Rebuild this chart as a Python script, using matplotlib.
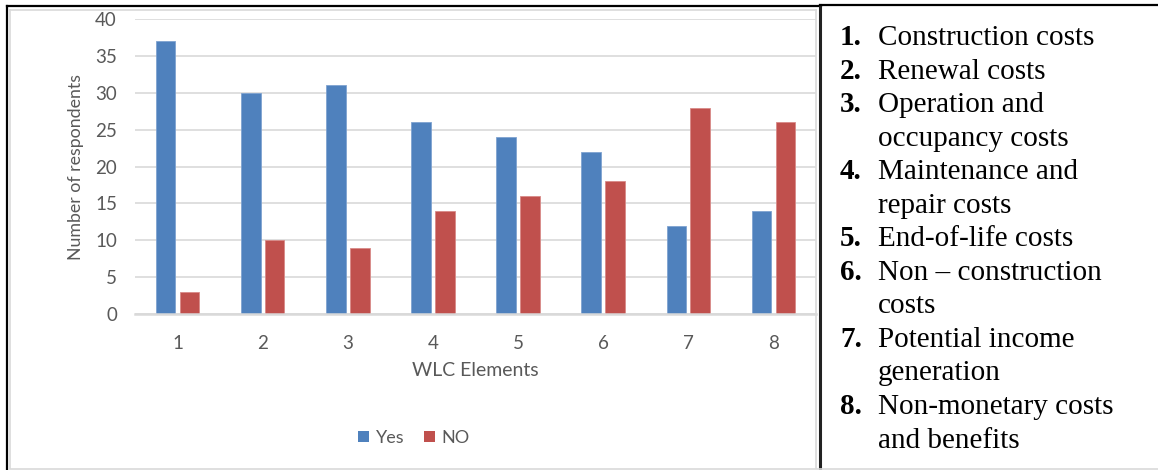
import matplotlib
matplotlib.use('Agg')
import matplotlib.pyplot as plt
from matplotlib.patches import Patch
import numpy as np

# WLC elements and survey responses
elements = ['1', '2', '3', '4', '5', '6', '7', '8']
yes_counts = [37, 30, 31, 26, 24, 22, 12, 14]
no_counts = [3, 10, 9, 14, 16, 18, 28, 26]
series_names = ['Yes', 'NO']
y_ticks = [0, 5, 10, 15, 20, 25, 30, 35, 40]

# key for the element numbers (each entry may wrap onto two lines)
key_numbers = ['1.', '2.', '3.', '4.', '5.', '6.', '7.', '8.']
key_lines = [
    ['Construction costs'],
    ['Renewal costs'],
    ['Operation and', 'occupancy costs'],
    ['Maintenance and', 'repair costs'],
    ['End-of-life costs'],
    ['Non \u2013 construction', 'costs'],
    ['Potential income', 'generation'],
    ['Non-monetary costs', 'and benefits'],
]

BLUE = '#4F81BD'
RED = '#C0504D'
GRID = '#D9D9D9'
TXT = '#595959'
W, H = 1158, 470

plt.rcParams['font.family'] = ['Lato', 'DejaVu Sans']

fig = plt.figure(figsize=(W / 100, H / 100), dpi=100)

# frame lines drawn in pixel coordinates on a background layer
bg = fig.add_axes([0, 0, 1, 1], zorder=0)
bg.set_xlim(0, W)
bg.set_ylim(H, 0)
bg.axis('off')
bg.plot([7, 7], [6, H], color='black', lw=1.6)
bg.plot([7, 821], [6, 6], color='black', lw=1.6)
bg.plot([9.5, 9.5], [9.5, 468], color=GRID, lw=1.2)
bg.plot([9.5, 816], [9.5, 9.5], color=GRID, lw=1.2)
bg.plot([816, 816], [9.5, 468], color=GRID, lw=1.2)
bg.plot([819.5, 819.5], [4.5, H], color='#222222', lw=2.2)
bg.plot([819.5, W], [4.5, 4.5], color='black', lw=1.6)
bg.plot([9.5, W], [468.5, 468.5], color=GRID, lw=1.2)

# key text on the right
x_num, x_txt = 840, 878
base, step = 45, 33.55
row = 0
for num, lines in zip(key_numbers, key_lines):
    bg.text(x_num, base + row * step, num, fontsize=21, fontweight='bold',
            family='Liberation Serif', va='baseline', ha='left', color='black')
    for ln in lines:
        bg.text(x_txt, base + row * step, ln, fontsize=21,
                family='Liberation Serif', va='baseline', ha='left', color='black')
        row += 1

# bar chart
ax = fig.add_axes([135 / W, 156 / H, 681 / W, 295 / H], zorder=1)
ax.patch.set_alpha(0)
x = np.arange(1, len(elements) + 1)
bw = 0.23
ax.bar(x - 0.14, yes_counts, bw, color=BLUE, edgecolor='#7FA3D0', lw=0.6, zorder=3)
ax.bar(x + 0.14, no_counts, bw, color=RED, edgecolor='#D88A88', lw=0.6, zorder=3)

ax.set_xlim(0.5, 8.5)
ax.set_ylim(0, 40)
ax.set_yticks(y_ticks)
ax.set_xticks(x)
ax.set_xticklabels(elements)
ax.yaxis.grid(True, color=GRID, lw=1.2, zorder=0)
ax.set_axisbelow(True)
for s in ['top', 'right', 'left']:
    ax.spines[s].set_visible(False)
ax.spines['bottom'].set_color(GRID)
ax.spines['bottom'].set_linewidth(1.8)
ax.spines['bottom'].set_zorder(4)
ax.tick_params(axis='both', length=0, labelsize=13.5, labelcolor=TXT)
ax.tick_params(axis='y', pad=13)
ax.tick_params(axis='x', pad=15)

ax.set_ylabel('Number of respondents', fontsize=12.8, color=TXT, va='center')
ax.yaxis.set_label_coords(-0.086, 0.5)
ax.set_xlabel('WLC Elements', fontsize=14, color=TXT, va='center')
ax.xaxis.set_label_coords(0.499, -0.19)

handles = [Patch(facecolor=BLUE), Patch(facecolor=RED)]
fig.legend(handles, series_names, loc='center', bbox_to_anchor=(414 / W, 1 - 438 / H),
           ncol=2, frameon=False, handlelength=0.6, handleheight=0.6,
           handletextpad=0.35, columnspacing=1.1, fontsize=13, labelcolor=TXT)

fig.savefig('out.png', dpi=100)
